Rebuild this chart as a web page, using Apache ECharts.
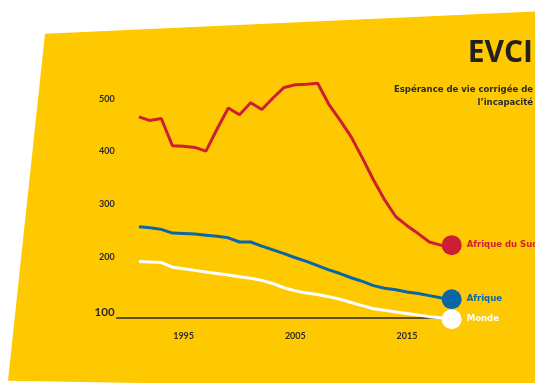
<!DOCTYPE html>
<html>
<head>
<meta charset="utf-8">
<script src="https://cdn.jsdelivr.net/npm/echarts@6/dist/echarts.min.js"></script>
<style>
  html, body { margin: 0; padding: 0; background: #ffffff; }
  #chart { width: 535px; height: 383px; }
</style>
</head>
<body>
<div id="chart"></div>
<script>
// Années couvertes par la série EVCI
const years = [1991, 1992, 1993, 1994, 1995, 1996, 1997, 1998, 1999, 2000,
               2001, 2002, 2003, 2004, 2005, 2006, 2007, 2008, 2009, 2010,
               2011, 2012, 2013, 2014, 2015, 2016, 2017, 2018, 2019];

// EVCI pour 1 000 habitants
const afriqueDuSud = [466, 459, 463, 411, 410, 408, 401, 443, 483, 470,
                      493, 480, 502, 522, 527, 528, 530, 490, 460, 428,
                      388, 346, 308, 276, 259, 244, 228, 222, 222];
const afrique = [257, 255, 252, 245, 244, 243, 241, 239, 236, 228,
                 228, 220, 213, 206, 198, 191, 183, 175, 168, 160,
                 153, 145, 140, 137, 133, 130, 126, 122, 119];
const monde = [191, 190, 189, 180, 177, 174, 171, 168, 165, 162,
               159, 155, 149, 141, 135, 131, 128, 124, 119, 113,
               107, 101, 98, 95, 92, 89, 86, 84, 81];

const yTicks = [100, 200, 300, 400, 500];
const xTicks = [1995, 2005, 2015];

const seriesDefs = [
  { name: 'Afrique du Sud', values: afriqueDuSud, color: '#cc1f33', labelColor: '#cc1f33' },
  { name: 'Afrique', values: afrique, color: '#0a66a4', labelColor: '#0a66a4' },
  { name: 'Monde', values: monde, color: '#ffffff', labelColor: '#ffffff' }
];

const FONT = 'Lato, "Open Sans", sans-serif';
const WIDE = '"DejaVu Sans", sans-serif';

function buildData(values, def) {
  return values.map((v, i) => {
    const item = { value: [years[i], v] };
    if (i === values.length - 1) {
      item.symbol = 'circle';
      item.symbolSize = 20;
      item.label = {
        show: true,
        position: 'right',
        distance: 5,
        formatter: def.name,
        color: def.labelColor,
        fontFamily: WIDE,
        fontWeight: 'bold',
        fontSize: 8.5
      };
    }
    return item;
  });
}

const chart = echarts.init(document.getElementById('chart'), null, { renderer: 'canvas' });

chart.setOption({
  animation: false,
  backgroundColor: '#ffffff',
  graphic: [
    {
      type: 'polygon',
      z: -10,
      silent: true,
      shape: { points: [[45, 33.7], [535, 11.5], [535, 383], [200, 384], [8, 380.7]] },
      style: { fill: '#fec900' }
    },
    {
      type: 'text',
      right: 2,
      top: 38,
      style: {
        text: 'EVCI',
        fill: '#231f20',
        font: 'bold 30px "Open Sans", sans-serif',
        textAlign: 'right'
      }
    },
    {
      type: 'text',
      right: 2,
      top: 83,
      style: {
        text: 'Espérance de vie corrigée de\nl\u2019incapacité',
        fill: '#2b2b2b',
        font: 'bold 8.5px ' + WIDE,
        textAlign: 'right',
        lineHeight: 13
      }
    }
  ],
  grid: {
    left: 116.6,
    right: 83.3,
    top: 78,
    bottom: 65,
    containLabel: false
  },
  xAxis: {
    type: 'value',
    min: 1989,
    max: 2019,
    splitLine: { show: false },
    axisTick: { show: false },
    axisLine: { show: true, lineStyle: { color: '#2a2a2a', width: 1.5 } },
    axisLabel: {
      customValues: xTicks,
      margin: 14,
      color: '#2b2b2b',
      fontFamily: FONT,
      fontWeight: 'bold',
      fontSize: 9,
      formatter: function (v) { return String(v); }
    }
  },
  yAxis: {
    type: 'value',
    min: 83.4,
    max: 540,
    splitLine: { show: false },
    axisTick: { show: false },
    axisLine: { show: false },
    axisLabel: {
      customValues: yTicks,
      margin: 2,
      color: '#2b2b2b',
      fontFamily: FONT,
      fontWeight: 'bold',
      fontSize: 9,
      formatter: function (v) {
        return v === 100 ? '{big|' + v + '}' : String(v);
      },
      rich: {
        big: {
          fontSize: 11.5,
          fontWeight: 'bold',
          fontFamily: FONT,
          color: '#2b2b2b',
          padding: [6, 0, 0, 0]
        }
      }
    }
  },
  series: seriesDefs.map(def => ({
    name: def.name,
    type: 'line',
    clip: false,
    symbol: 'none',
    showSymbol: true,
    lineStyle: { color: def.color, width: 3 },
    itemStyle: { color: def.color },
    z: def.name === 'Monde' ? 3 : 2,
    data: buildData(def.values, def)
  }))
});
</script>
</body>
</html>
